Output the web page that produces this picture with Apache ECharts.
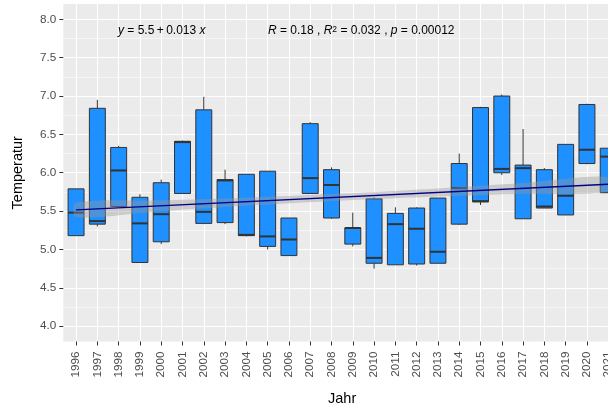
<!DOCTYPE html>
<html>
<head>
<meta charset="utf-8">
<title>Temperatur</title>
<script src="https://cdn.jsdelivr.net/npm/echarts@6/dist/echarts.min.js"></script>
<style>html,body{margin:0;padding:0;background:#fff;}</style>
</head>
<body>
<div id="chartmain" style="width:608px; height:404px;"></div>
<script type="text/javascript">
  // boxplot stats per year
  const years = [1996, 1997, 1998, 1999, 2000, 2001, 2002, 2003, 2004, 2005, 2006, 2007, 2008,
                 2009, 2010, 2011, 2012, 2013, 2014, 2015, 2016, 2017, 2018, 2019, 2020, 2021];
  const low  = [5.18, 5.30, 5.55, 4.83, 5.07, 5.73, 5.33, 5.33, 5.17, 5.00, 4.92, 5.73, 5.40,
                5.04, 4.75, 4.80, 4.79, 4.82, 5.32, 5.58, 5.97, 5.40, 5.54, 5.45, 6.11, 5.74];
  const q1   = [5.18, 5.33, 5.56, 4.83, 5.10, 5.73, 5.34, 5.35, 5.18, 5.04, 4.92, 5.73, 5.41,
                5.07, 4.82, 4.80, 4.81, 4.82, 5.33, 5.62, 6.00, 5.40, 5.54, 5.45, 6.12, 5.74];
  const med  = [5.48, 5.37, 6.03, 5.34, 5.46, 6.40, 5.49, 5.90, 5.19, 5.17, 5.13, 5.93, 5.84,
                5.28, 4.89, 5.33, 5.27, 4.97, 5.80, 5.63, 6.05, 6.06, 5.56, 5.70, 6.30, 6.21];
  const q3   = [5.79, 6.84, 6.33, 5.68, 5.87, 6.41, 6.82, 5.91, 5.98, 6.02, 5.41, 6.64, 6.04,
                5.28, 5.66, 5.47, 5.54, 5.67, 6.12, 6.85, 7.00, 6.10, 6.04, 6.37, 6.89, 6.32];
  const high = [5.79, 6.95, 6.35, 5.72, 5.91, 6.42, 6.99, 6.04, 5.98, 6.02, 5.41, 6.66, 6.07,
                5.48, 5.68, 5.55, 5.55, 5.67, 6.25, 6.86, 7.02, 6.57, 6.06, 6.37, 6.90, 6.32];

  // regression line + confidence band
  const lineYears = [1996, 2021];
  const lineVals = [5.515, 5.85];
  const bandYears = [1996, 2000, 2004, 2008.5, 2013, 2017, 2021];
  const bandLower = [5.42, 5.50, 5.57, 5.638, 5.69, 5.726, 5.755];
  const bandUpper = [5.61, 5.64, 5.675, 5.728, 5.796, 5.866, 5.945];

  // axis ticks
  const yTicks = [4.0, 4.5, 5.0, 5.5, 6.0, 6.5, 7.0, 7.5, 8.0];
  const yMinor = [4.25, 4.75, 5.25, 5.75, 6.25, 6.75, 7.25, 7.75];

  const font = 'Liberation Sans, Arial, sans-serif';
  const boxData = years.map((y, i) => [y, low[i], q1[i], med[i], q3[i], high[i]]);

  function renderBox(params, api) {
    const x = api.value(0);
    const half = api.size([0.75, 0])[0] / 2;
    const pLow = api.coord([x, api.value(1)]);
    const pQ1 = api.coord([x, api.value(2)]);
    const pMed = api.coord([x, api.value(3)]);
    const pQ3 = api.coord([x, api.value(4)]);
    const pHigh = api.coord([x, api.value(5)]);
    const stroke = '#333333';
    return {
      type: 'group',
      children: [
        { type: 'line', shape: { x1: pLow[0], y1: pLow[1], x2: pQ1[0], y2: pQ1[1] }, style: { stroke: stroke, lineWidth: 1 } },
        { type: 'line', shape: { x1: pQ3[0], y1: pQ3[1], x2: pHigh[0], y2: pHigh[1] }, style: { stroke: stroke, lineWidth: 1 } },
        { type: 'rect', shape: { x: pQ3[0] - half, y: pQ3[1], width: half * 2, height: pQ1[1] - pQ3[1] },
          style: { fill: '#1E90FF', stroke: stroke, lineWidth: 1 } },
        { type: 'line', shape: { x1: pMed[0] - half, y1: pMed[1], x2: pMed[0] + half, y2: pMed[1] }, style: { stroke: stroke, lineWidth: 2 } }
      ]
    };
  }

  function renderBand(params, api) {
    const pts = [];
    for (let i = 0; i < bandYears.length; i++) pts.push(api.coord([bandYears[i], bandUpper[i]]));
    for (let i = bandYears.length - 1; i >= 0; i--) pts.push(api.coord([bandYears[i], bandLower[i]]));
    return { type: 'polygon', shape: { points: pts, smooth: 0.3 }, style: { fill: 'rgba(153,153,153,0.4)' } };
  }

  const option = {
    animation: false,
    textStyle: { fontFamily: font },
    grid: {
      left: 63.3, right: -13, top: 4, bottom: 62.5,
      outerBoundsMode: 'none', containLabel: false,
      show: true, backgroundColor: '#EBEBEB', borderWidth: 0
    },
    xAxis: {
      type: 'value', min: 1995.4, max: 2021.6,
      name: 'Jahr', nameLocation: 'middle', nameGap: 50,
      nameTextStyle: { fontSize: 14.5, color: '#000', fontFamily: font },
      axisLine: { show: false },
      axisTick: { show: true, length: 4, customValues: years, lineStyle: { color: '#333', width: 1 } },
      axisLabel: { customValues: years, rotate: 90, fontSize: 11.7, color: '#4D4D4D', margin: 10, fontFamily: font,
                   formatter: v => String(v) },
      splitLine: { show: true, lineStyle: { color: '#fff', width: 1.1 } }
    },
    yAxis: [{
      type: 'value', min: 3.8, max: 8.2,
      name: 'Temperatur', nameLocation: 'middle', nameGap: 38,
      nameTextStyle: { fontSize: 14.5, color: '#000', fontFamily: font },
      axisLine: { show: false },
      axisTick: { show: true, length: 4, customValues: yTicks, lineStyle: { color: '#333', width: 1 } },
      axisLabel: { customValues: yTicks, fontSize: 11.7, color: '#4D4D4D', margin: 7, fontFamily: font,
                   formatter: v => v.toFixed(1) },
      splitLine: { show: true, lineStyle: { color: '#fff', width: 1.1 } }
    }, {
      type: 'value', min: 3.8, max: 8.2, position: 'left',
      axisLine: { show: false },
      axisTick: { show: false, customValues: yMinor },
      axisLabel: { show: false, customValues: yMinor },
      splitLine: { show: true, lineStyle: { color: '#fff', width: 0.55 } }
    }],
    graphic: [{
      type: 'text', left: 118, top: 25, z: 100,
      style: {
        text: '{i|y} = 5.5\u2009+\u20090.013 {i|x}',
        fontSize: 12, fontFamily: font, fill: '#000',
        rich: { i: { fontStyle: 'italic', fontSize: 12, fontFamily: font } }
      }
    }, {
      type: 'text', left: 268, top: 25, z: 100,
      style: {
        text: '{i|R} = 0.18 , {i|R}{s|2} = 0.032 , {i|p} = 0.00012',
        fontSize: 12, fontFamily: font, fill: '#000',
        rich: {
          i: { fontStyle: 'italic', fontSize: 12, fontFamily: font },
          s: { fontSize: 8.5, fontFamily: font, verticalAlign: 'top' }
        }
      }
    }],
    series: [{
      name: 'box', type: 'custom', renderItem: renderBox,
      encode: { x: 0, y: [1, 2, 3, 4, 5] },
      data: boxData
    }, {
      name: 'band', type: 'custom', renderItem: renderBand,
      data: [[bandYears[3], lineVals[0]]]
    }, {
      name: 'fit', type: 'line', symbol: 'none',
      lineStyle: { color: '#00008B', width: 1.3 },
      data: lineYears.map((y, i) => [y, lineVals[i]])
    }]
  };

  const myChart = echarts.init(document.getElementById('chartmain'));
  myChart.setOption(option);
</script>
</body>
</html>
